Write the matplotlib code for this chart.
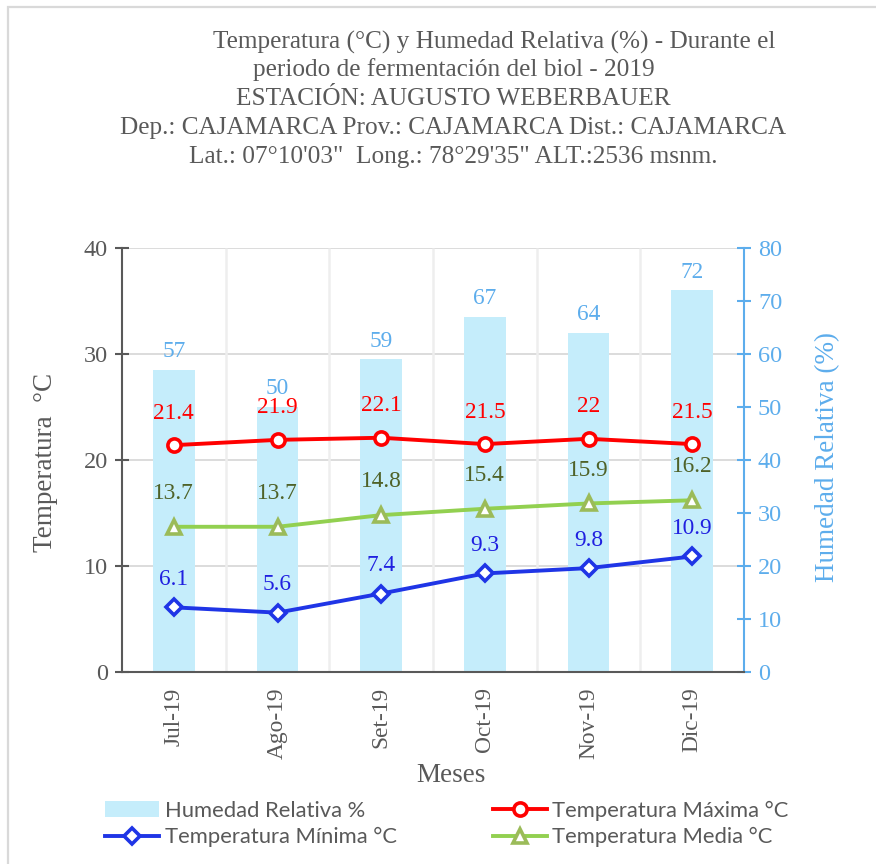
import numpy as np
import matplotlib
matplotlib.use("Agg")
import matplotlib.pyplot as plt
from matplotlib.patches import Rectangle
from matplotlib.lines import Line2D
from matplotlib.patches import Patch

# Monthly data
months = ["Jul-19", "Ago-19", "Set-19", "Oct-19", "Nov-19", "Dic-19"]
hum_rel = [57, 50, 59, 67, 64, 72]
t_max = [21.4, 21.9, 22.1, 21.5, 22, 21.5]
t_media = [13.7, 13.7, 14.8, 15.4, 15.9, 16.2]
t_min = [6.1, 5.6, 7.4, 9.3, 9.8, 10.9]

left_ticks = [0, 10, 20, 30, 40]
right_ticks = [0, 10, 20, 30, 40, 50, 60, 70, 80]

title_lines = [
    "Temperatura (°C) y Humedad Relativa (%) - Durante el",
    "periodo de fermentación del biol - 2019",
    "ESTACIÓN: AUGUSTO WEBERBAUER",
    "Dep.: CAJAMARCA Prov.: CAJAMARCA Dist.: CAJAMARCA",
    "Lat.: 07°10'03\"  Long.: 78°29'35\" ALT.:2536 msnm.",
]

SERIF = "Liberation Serif"
SANS = "Lato"
GRAY = "#595959"
C_BAR = "#C5EDFB"
C_HR = "#5DADEC"
C_MAX = "#FF0000"
C_MIN_LINE = "#1F35E6"
C_MIN_TXT = "#2020E0"
C_MED_LINE = "#92D050"
C_MED_MK = "#9BBB59"
C_MED_TXT = "#4F6228"

W, H = 876, 864
fig = plt.figure(figsize=(W / 100, H / 100), dpi=100)

# outer chart frame
fig.patches.append(Rectangle((8 / W, -0.1), 1.2, 1 - 7 / H + 0.1, transform=fig.transFigure,
                             fill=False, edgecolor="#D9D9D9", linewidth=1.6))

ax_l, ax_r, ax_t, ax_b = 122, 744, 248, 672
ax = fig.add_axes([ax_l / W, 1 - ax_b / H, (ax_r - ax_l) / W, (ax_b - ax_t) / H])
ax2 = ax.twinx()
ax.set_zorder(ax2.get_zorder() + 1)
ax.patch.set_visible(False)

x = np.arange(len(months))
ax.set_xlim(-0.5, len(months) - 0.5)
ax.set_ylim(left_ticks[0], left_ticks[-1])
ax2.set_ylim(right_ticks[0], right_ticks[-1])

# grid lines live under the bars
ax2.hlines(left_ticks[1:], 0, 1, transform=ax.get_yaxis_transform(),
           colors="#D9D9D9", linewidth=1.3, zorder=0)
ax2.vlines(x[:-1] + 0.5, 0, 1, transform=ax2.get_xaxis_transform(),
           colors="#EEEEEE", linewidth=1.8, zorder=0)

# relative humidity bars
bars = ax2.bar(x, hum_rel, width=0.4, color=C_BAR, zorder=1)
for xi, v in zip(x, hum_rel):
    ax2.annotate(f"{v:g}", (xi, v), xytext=(0, 13), textcoords="offset points",
                 ha="center", va="center", color=C_HR, fontsize=16.8, family=SERIF)

# temperature lines
series = [
    (t_max, C_MAX, C_MAX, "o", 9.5, C_MAX, 23),
    (t_media, C_MED_LINE, C_MED_MK, "^", 10.5, C_MED_TXT, 24),
    (t_min, C_MIN_LINE, C_MIN_LINE, "D", 8, C_MIN_TXT, 20),
]
for vals, lc, mc, mk, ms, tc, off in series:
    ax.plot(x, vals, color=lc, linewidth=2.8, marker=mk, markersize=ms,
            markerfacecolor="white", markeredgecolor=mc, markeredgewidth=2.6, zorder=3)
    for xi, v in zip(x, vals):
        ax.annotate(f"{v:g}", (xi, v), xytext=(0, off), textcoords="offset points",
                    ha="center", va="center", color=tc, fontsize=16.8, family=SERIF)

# axes styling
for s in ["top", "right"]:
    ax.spines[s].set_visible(False)
for s in ["top", "left", "bottom"]:
    ax2.spines[s].set_visible(False)
ax.spines["left"].set_color(GRAY)
ax.spines["bottom"].set_color(GRAY)
ax.spines["left"].set_linewidth(1.5)
ax.spines["bottom"].set_linewidth(1.5)
ax2.spines["right"].set_color(C_HR)
ax2.spines["right"].set_linewidth(1.5)

ax.set_yticks(left_ticks)
ax.tick_params(axis="y", direction="inout", length=10, width=1.5, color=GRAY,
               labelcolor=GRAY, labelsize=17.5, pad=5)
ax.set_xticks(x)
ax.set_xticklabels(months, rotation=90, fontsize=16.8, color=GRAY, family=SERIF)
ax.tick_params(axis="x", length=0, pad=11)
ax2.set_yticks(right_ticks)
ax2.tick_params(axis="y", direction="inout", length=10, width=1.5, color=C_HR,
                labelcolor=C_HR, labelsize=17.5, pad=5)
for lab in ax.get_yticklabels() + ax2.get_yticklabels():
    lab.set_family(SERIF)

# axis titles
fig.text(46 / W, 1 - 462 / H, "Temperatura  °C", rotation=90, ha="center", va="center",
         fontsize=19.5, color=GRAY, family=SERIF)
fig.text(828 / W, 1 - 457 / H, "Humedad Relativa (%)", rotation=90, ha="center", va="center",
         fontsize=19.5, color=C_HR, family=SERIF)
fig.text(451 / W, 1 - 775 / H, "Meses", ha="center", va="center",
         fontsize=19.5, color=GRAY, family=SERIF)

# chart title
title_y = [42, 70, 99, 128, 157]
title_x = [494, 454, 453, 453, 453]
for tx, ty, line in zip(title_x, title_y, title_lines):
    fig.text(tx / W, 1 - ty / H, line, ha="center", va="center",
             fontsize=18.2, color=GRAY, family=SERIF)

# legend
handles = [
    Patch(facecolor=C_BAR, edgecolor="none"),
    Line2D([], [], color=C_MIN_LINE, linewidth=2.8, marker="D", markersize=8,
           markerfacecolor="white", markeredgecolor=C_MIN_LINE, markeredgewidth=2.6),
    Line2D([], [], color=C_MAX, linewidth=2.8, marker="o", markersize=9.5,
           markerfacecolor="white", markeredgecolor=C_MAX, markeredgewidth=2.6),
    Line2D([], [], color=C_MED_LINE, linewidth=2.8, marker="^", markersize=10.5,
           markerfacecolor="white", markeredgecolor=C_MED_MK, markeredgewidth=2.6),
]
labels = ["Humedad Relativa %", "Temperatura Mínima °C",
          "Temperatura Máxima °C", "Temperatura Media °C"]
leg = fig.legend(handles, labels, ncol=2, loc="center", bbox_to_anchor=(447 / W, 1 - 824 / H),
                 frameon=False, prop={"family": SANS, "size": 15.8}, labelcolor=GRAY,
                 handlelength=2.45, handletextpad=0.25, columnspacing=4.4, labelspacing=0.3,
                 borderaxespad=0)

fig.savefig("out.png", dpi=100)
